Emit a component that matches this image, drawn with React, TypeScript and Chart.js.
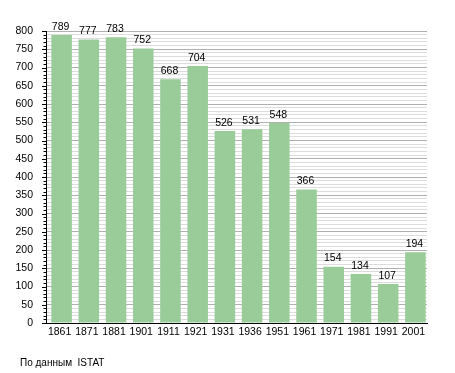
import React, { useEffect, useRef } from "react";
import { Chart, registerables } from "chart.js";

Chart.register(...registerables);

const years = ["1861", "1871", "1881", "1901", "1911", "1921", "1931", "1936", "1951", "1961", "1971", "1981", "1991", "2001"];
const population = [789, 777, 783, 752, 668, 704, 526, 531, 548, 366, 154, 134, 107, 194];
const yMin = 0;
const yMax = 800;
const majorStep = 50;
const minorStep = 10;
const sourceNote = "По данным  ISTAT";

const FONT = "'Liberation Sans', Arial, sans-serif";
const FONT_SIZE = 10.5;
const BAR_COLOR = "#99cc99";
const MAJOR_GRID = "#b0b0b0";
const MINOR_GRID = "#dcdcdc";
const BAR_SHIFT = 2;

const barShiftPlugin = {
  id: "barShift",
  beforeDatasetsDraw(chart: any) {
    chart.ctx.save();
    chart.ctx.translate(BAR_SHIFT, 0);
  },
  afterDatasetsDraw(chart: any) {
    chart.ctx.restore();
  },
};

const extrasPlugin = {
  id: "extras",
  afterDraw(chart: any) {
    const ctx = chart.ctx;
    const y = chart.scales.y;
    const area = chart.chartArea;
    ctx.save();
    ctx.strokeStyle = "#000";
    ctx.lineWidth = 1;
    for (let v = yMin; v <= yMax; v += minorStep) {
      const py = Math.round(y.getPixelForValue(v)) + 0.5;
      const len = v % majorStep === 0 ? 4 : 2.5;
      ctx.beginPath();
      ctx.moveTo(area.left - len, py);
      ctx.lineTo(area.left, py);
      ctx.stroke();
    }
    ctx.fillStyle = "#000";
    ctx.font = `${FONT_SIZE}px ${FONT}`;
    ctx.textAlign = "center";
    ctx.textBaseline = "bottom";
    const meta = chart.getDatasetMeta(0);
    meta.data.forEach((bar: any, i: number) => {
      ctx.fillText(String(population[i]), bar.x + 1, bar.y - 3);
    });
    ctx.font = `10px ${FONT}`;
    ctx.textAlign = "left";
    ctx.textBaseline = "alphabetic";
    ctx.fillText(sourceNote, 20, 366);
    ctx.restore();
  },
};

export default function App() {
  const ref = useRef<HTMLCanvasElement>(null);
  useEffect(() => {
    if (!ref.current) return;
    const chart = new Chart(ref.current, {
      type: "bar",
      data: {
        labels: years,
        datasets: [
          {
            data: population,
            backgroundColor: BAR_COLOR,
            borderWidth: 0,
            barPercentage: 0.755,
            categoryPercentage: 1,
          },
        ],
      },
      options: {
        responsive: false,
        animation: false,
        layout: { padding: { top: 31, right: 28, bottom: 0, left: 0 } },
        plugins: { legend: { display: false }, tooltip: { enabled: false } },
        scales: {
          x: {
            grid: { display: true, color: "rgba(0,0,0,0)", drawTicks: false },
            border: { display: true, color: "#000", width: 1 },
            ticks: { color: "#000", font: { family: FONT, size: FONT_SIZE }, padding: 3, maxRotation: 0, autoSkip: false },
            afterFit: (s: any) => {
              s.height = 50;
            },
          },
          y: {
            min: yMin,
            max: yMax,
            grid: {
              color: (c: any) => (c.tick && c.tick.value % majorStep === 0 ? MAJOR_GRID : MINOR_GRID),
              drawTicks: false,
              lineWidth: 1,
            },
            border: { display: true, color: "#000", width: 1 },
            ticks: {
              stepSize: minorStep,
              autoSkip: false,
              color: "#000",
              font: { family: FONT, size: FONT_SIZE },
              padding: 13,
              callback: (v: any) => (Number(v) % majorStep === 0 ? String(v) : ""),
            },
            afterFit: (s: any) => {
              s.width = 46;
            },
          },
        },
      },
      plugins: [barShiftPlugin, extrasPlugin],
    });
    return () => chart.destroy();
  }, []);
  return (
    <div style={{ position: "fixed", left: 0, top: 0, width: 455, height: 373, background: "#fff" }}>
      <canvas ref={ref} width={455} height={373} style={{ display: "block" }} />
    </div>
  );
}
